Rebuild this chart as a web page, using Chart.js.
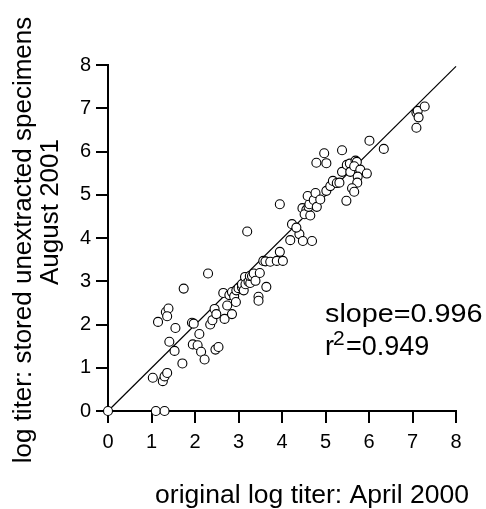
<!DOCTYPE html>
<html><head><meta charset="utf-8">
<script src="https://cdn.jsdelivr.net/npm/chart.js@4"></script>
<style>html,body{margin:0;padding:0;background:#fff}canvas{display:block}</style>
</head><body>
<canvas id="c" width="486" height="509"></canvas>
<script>
const xOriginal = [0,1.10,1.30,1.03,1.26,1.30,1.36,1.15,1.33,1.39,1.36,1.41,1.55,1.53,1.71,1.74,1.93,1.97,1.95,2.06,
  2.14,2.22,2.10,2.30,2.35,2.40,2.45,2.49,2.47,2.54,2.65,2.68,2.74,2.79,2.85,2.85,2.90,2.94,2.95,3.00,
  3.08,3.08,3.12,3.15,3.16,3.23,3.27,3.26,3.31,3.35,3.39,3.49,3.20,3.46,3.46,3.64,3.57,3.62,3.73,3.88,
  4.02,3.95,3.95,4.19,4.40,4.48,4.69,4.23,4.33,4.47,4.56,4.52,4.65,4.61,4.63,4.59,4.73,4.77,4.80,4.88,
  4.79,5.02,4.97,5.02,5.11,5.17,5.26,5.32,5.38,5.38,5.49,5.56,5.57,5.69,5.72,5.66,5.80,5.95,5.74,5.73,
  5.61,5.66,5.48,6.01,6.34,7.09,7.12,7.14,7.09,7.28];
const yStored = [0,0,0,0.77,0.69,0.80,0.88,2.06,2.29,2.37,2.19,1.60,1.92,1.39,1.10,2.83,2.04,2.02,1.54,1.52,
  1.37,1.19,1.78,3.18,2.00,2.10,2.36,2.24,1.42,1.48,2.73,2.13,2.44,2.68,2.75,2.24,2.65,2.52,2.79,2.84,
  2.86,2.93,2.79,3.10,2.93,2.99,2.96,3.12,3.12,3.18,3.01,3.19,4.15,2.64,2.55,2.87,3.47,3.46,3.45,3.47,
  3.47,3.68,4.78,3.95,4.09,3.93,3.93,4.32,4.24,4.69,4.65,4.55,4.52,4.72,4.78,4.97,4.88,5.04,4.72,4.89,
  5.74,5.73,5.96,5.09,5.20,5.32,5.27,5.28,6.03,5.53,5.69,5.72,5.53,5.79,5.76,5.66,5.58,5.49,5.42,5.28,
  5.15,5.07,4.86,6.25,6.06,6.90,6.94,6.79,6.55,7.04];
const tickValues = [0,1,2,3,4,5,6,7,8];
const tickLabels = ['0','1','2','3','4','5','6','7','8'];
const fitSlope = 0.996;
const rSquared = 0.949;
const fitRange = [0, 8];
const xTitle = 'original log titer: April 2000';
const yTitleLines = ['log titer: stored unextracted specimens', 'August 2001'];

const points = xOriginal.map((x, i) => ({x: x, y: yStored[i]}));
const fitLine = fitRange.map(x => ({x: x, y: fitSlope * x}));

const FONT = '"Liberation Sans", Arial, Helvetica, sans-serif';

const textPlugin = {
  id: 'texts',
  afterDraw(chart) {
    const ctx = chart.ctx;
    ctx.save();
    ctx.fillStyle = '#000';
    ctx.textBaseline = 'alphabetic';
    ctx.textAlign = 'center';
    ctx.font = '26px ' + FONT;
    ctx.save(); ctx.translate(31, 240); ctx.rotate(-Math.PI / 2); ctx.fillText(yTitleLines[0], 0, 0); ctx.restore();
    ctx.save(); ctx.translate(58, 212); ctx.rotate(-Math.PI / 2); ctx.fillText(yTitleLines[1], 0, 0); ctx.restore();
    ctx.font = '26.5px ' + FONT;
    ctx.fillText(xTitle, 312, 503);
    ctx.textAlign = 'left';
    ctx.font = '25px ' + FONT;
    ctx.save(); ctx.translate(325, 322); ctx.scale(1.15, 1); ctx.fillText('slope=' + fitSlope.toFixed(3), 0, 0); ctx.restore();
    ctx.font = '27px ' + FONT;
    ctx.fillText('r', 325, 355);
    ctx.font = '21px ' + FONT;
    ctx.fillText('2', 333, 345);
    ctx.font = '27px ' + FONT;
    ctx.fillText('=' + rSquared.toFixed(3), 346, 355);
    ctx.restore();
  }
};

const setTicks = s => { s.ticks = tickValues.map(v => ({value: v, label: tickLabels[tickValues.indexOf(v)]})); };
const axisCommon = {
  type: 'linear', min: 0, max: 8,
  afterBuildTicks: setTicks,
  grid: {drawOnChartArea: false, drawTicks: true, tickLength: 12, color: '#000', lineWidth: 2},
  border: {display: true, color: '#000', width: 2},
  title: {display: false}
};

new Chart(document.getElementById('c'), {
  type: 'scatter',
  data: {
    datasets: [
      {type: 'line', data: fitLine, borderColor: '#000', borderWidth: 1.2, pointRadius: 0, fill: false, clip: false, order: 2},
      {data: points, pointRadius: 4.5, pointHoverRadius: 4.5, pointBackgroundColor: '#fff', pointBorderColor: '#000', pointBorderWidth: 1.1, clip: false, order: 1}
    ]
  },
  options: {
    responsive: false, animation: false, devicePixelRatio: 1, events: [],
    layout: {padding: {left: 0, right: 30, top: 65, bottom: 0}},
    plugins: {legend: {display: false}, tooltip: {enabled: false}},
    scales: {
      x: Object.assign({}, axisCommon, {
        position: 'bottom',
        ticks: {color: '#000', font: {family: FONT, size: 20}, padding: 7, autoSkip: false, maxRotation: 0, callback: (v) => tickLabels[tickValues.indexOf(v)]},
        afterFit: s => { s.height = 98; }
      }),
      y: Object.assign({}, axisCommon, {
        position: 'left',
        ticks: {color: '#000', font: {family: FONT, size: 20}, padding: 5, autoSkip: false, callback: (v) => tickLabels[tickValues.indexOf(v)]},
        afterFit: s => { s.width = 108; }
      })
    }
  },
  plugins: [textPlugin]
});
</script>
</body></html>
